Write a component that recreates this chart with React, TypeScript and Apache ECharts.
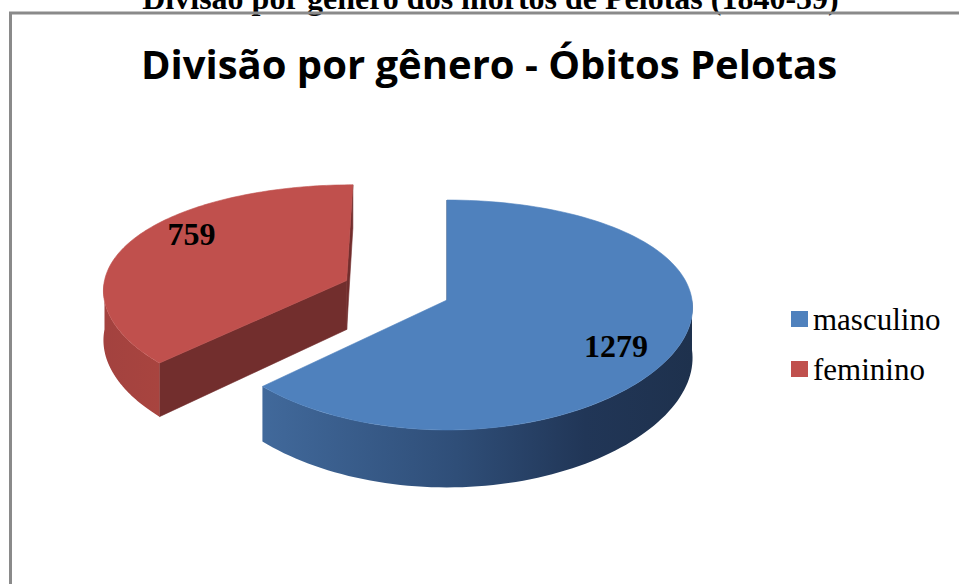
import React, { useEffect, useRef } from "react";
import * as echarts from "echarts";

const categories: string[] = ["masculino", "feminino"];
const values: number[] = [1279, 759];
const explodeRatios: number[] = [0, 0.45];

const chartTitle = "Divisão por gênero - Óbitos Pelotas";
const captionText = "Divisão por gênero dos mortos de Pelotas (1840-59)";

// styling / geometry constants
const TOP_COLORS = ["#4F81BD", "#C0504D"];
const CUT_COLORS = ["#2A4468", "#722E2D"];
const CX = 447;
const CY = 300;
const RX = 245;
const RY = 113;
const PERSP_Y = 7.67;
const PERSP_X = 15;
const DEPTH = 50;
const LABEL_R = 0.79;
const LABEL_ROT = (9 * Math.PI) / 180;

function proj(u: number, v: number, z: number): number[] {
  const p = PERSP_Y / (PERSP_Y + v);
  const px = PERSP_X / (PERSP_X + v);
  return [CX + RX * u * px, CY - RY * v * p + DEPTH * z * p];
}

function wallFill(i: number) {
  if (i === 0) {
    return new echarts.graphic.LinearGradient(0, 0, 1, 0, [
      { offset: 0, color: "#41699B" },
      { offset: 0.45, color: "#2F4E78" },
      { offset: 0.75, color: "#213657" },
      { offset: 1, color: "#1E314D" },
    ]);
  }
  return new echarts.graphic.LinearGradient(0, 0, 1, 0, [
    { offset: 0, color: "#A3423F" },
    { offset: 1, color: "#A8443F" },
  ]);
}

function makeRender(i: number) {
  return (params: any, api: any) => {
    const total = values.reduce((a, b) => a + b, 0);
    let acc = 0;
    for (let j = 0; j < i; j++) acc += values[j];
    const val = api.value(0);
    const a0 = (acc / total) * Math.PI * 2;
    const a1 = ((acc + val) / total) * Math.PI * 2;
    const mid = (a0 + a1) / 2;
    const ou = explodeRatios[i] * Math.sin(mid);
    const ov = explodeRatios[i] * Math.cos(mid);
    const pt = (th: number, r: number, z: number) =>
      proj(ou + r * Math.sin(th), ov + r * Math.cos(th), z);

    const children: any[] = [];
    const poly = (points: number[][], fill: any, stroke?: string) => ({
      type: "polygon",
      shape: { points },
      style: { fill, stroke: stroke || "none", lineWidth: stroke ? 0.6 : 0 },
    });

    // cut faces (visible only)
    const cut = (th: number, phi: number) => {
      if (Math.cos(phi) > 0.02) return;
      children.push(
        poly(
          [pt(th, 0, 0), pt(th, 1, 0), pt(th, 1, 1), pt(th, 0, 1)],
          CUT_COLORS[i],
          CUT_COLORS[i]
        )
      );
    };
    cut(a0, a0 - Math.PI / 2);
    cut(a1, a1 + Math.PI / 2);

    // outer wall (front part)
    const s = Math.max(a0, Math.PI / 2);
    const e = Math.min(a1, (Math.PI * 3) / 2);
    if (e > s) {
      const N = 80;
      const topArc: number[][] = [];
      const botArc: number[][] = [];
      for (let k = 0; k <= N; k++) {
        const th = s + ((e - s) * k) / N;
        topArc.push(pt(th, 1, 0));
        botArc.push(pt(th, 1, 1));
      }
      children.push(poly(topArc.concat(botArc.reverse()), wallFill(i)));
    }

    // top face
    const N2 = 120;
    const face: number[][] = [pt(0, 0, 0)];
    for (let k = 0; k <= N2; k++) {
      const th = a0 + ((a1 - a0) * k) / N2;
      face.push(pt(th, 1, 0));
    }
    children.push(poly(face, TOP_COLORS[i], TOP_COLORS[i]));

    // value label
    const lp = pt(mid + LABEL_ROT, LABEL_R, 0);
    children.push({
      type: "text",
      x: lp[0],
      y: lp[1] - 4,
      style: {
        text: String(val),
        fill: "#000",
        font: 'bold 32px "Liberation Serif", "Times New Roman", serif',
        align: "center",
        verticalAlign: "middle",
      },
    });

    return { type: "group", children };
  };
}

export default function App() {
  const ref = useRef<HTMLDivElement>(null);
  useEffect(() => {
    if (!ref.current) return;
    const chart = echarts.init(ref.current, null, { renderer: "svg" });
    chart.setOption({
      animation: false,
      backgroundColor: "#ffffff",
      title: {
        text: chartTitle,
        left: 484,
        top: 38,
        textAlign: "center",
        textStyle: {
          fontFamily: '"Open Sans", sans-serif',
          fontWeight: 700,
          fontSize: 40,
          lineHeight: 40,
          color: "#000",
        },
      },
      legend: {
        data: categories,
        orient: "vertical",
        left: 786,
        top: 297,
        icon: "rect",
        itemWidth: 17,
        itemHeight: 16,
        itemGap: 16,
        selectedMode: false,
        textStyle: {
          fontFamily: '"Liberation Serif", "Times New Roman", serif',
          fontSize: 31,
          lineHeight: 34,
          color: "#000",
        },
      },
      graphic: [
        {
          type: "text",
          x: 490.5,
          y: -2,
          z: 1,
          style: {
            text: captionText,
            fill: "#000",
            font: 'bold 32px "Liberation Serif", "Times New Roman", serif',
            align: "center",
            verticalAlign: "middle",
          },
        },
        {
          type: "rect",
          z: 2,
          shape: { x: 10.5, y: 13, width: 1000, height: 700 },
          style: { fill: "none", stroke: "#8a8a8a", lineWidth: 3 },
        },
      ],
      series: categories.map((name, i) => ({
        type: "custom",
        name,
        coordinateSystem: "none",
        z: i === 0 ? 3 : 2,
        itemStyle: { color: TOP_COLORS[i] },
        data: [values[i]],
        renderItem: makeRender(i),
      })),
    });
    return () => chart.dispose();
  }, []);
  return (
    <div
      ref={ref}
      style={{ position: "fixed", left: 0, top: 0, width: 959, height: 584 }}
    />
  );
}
